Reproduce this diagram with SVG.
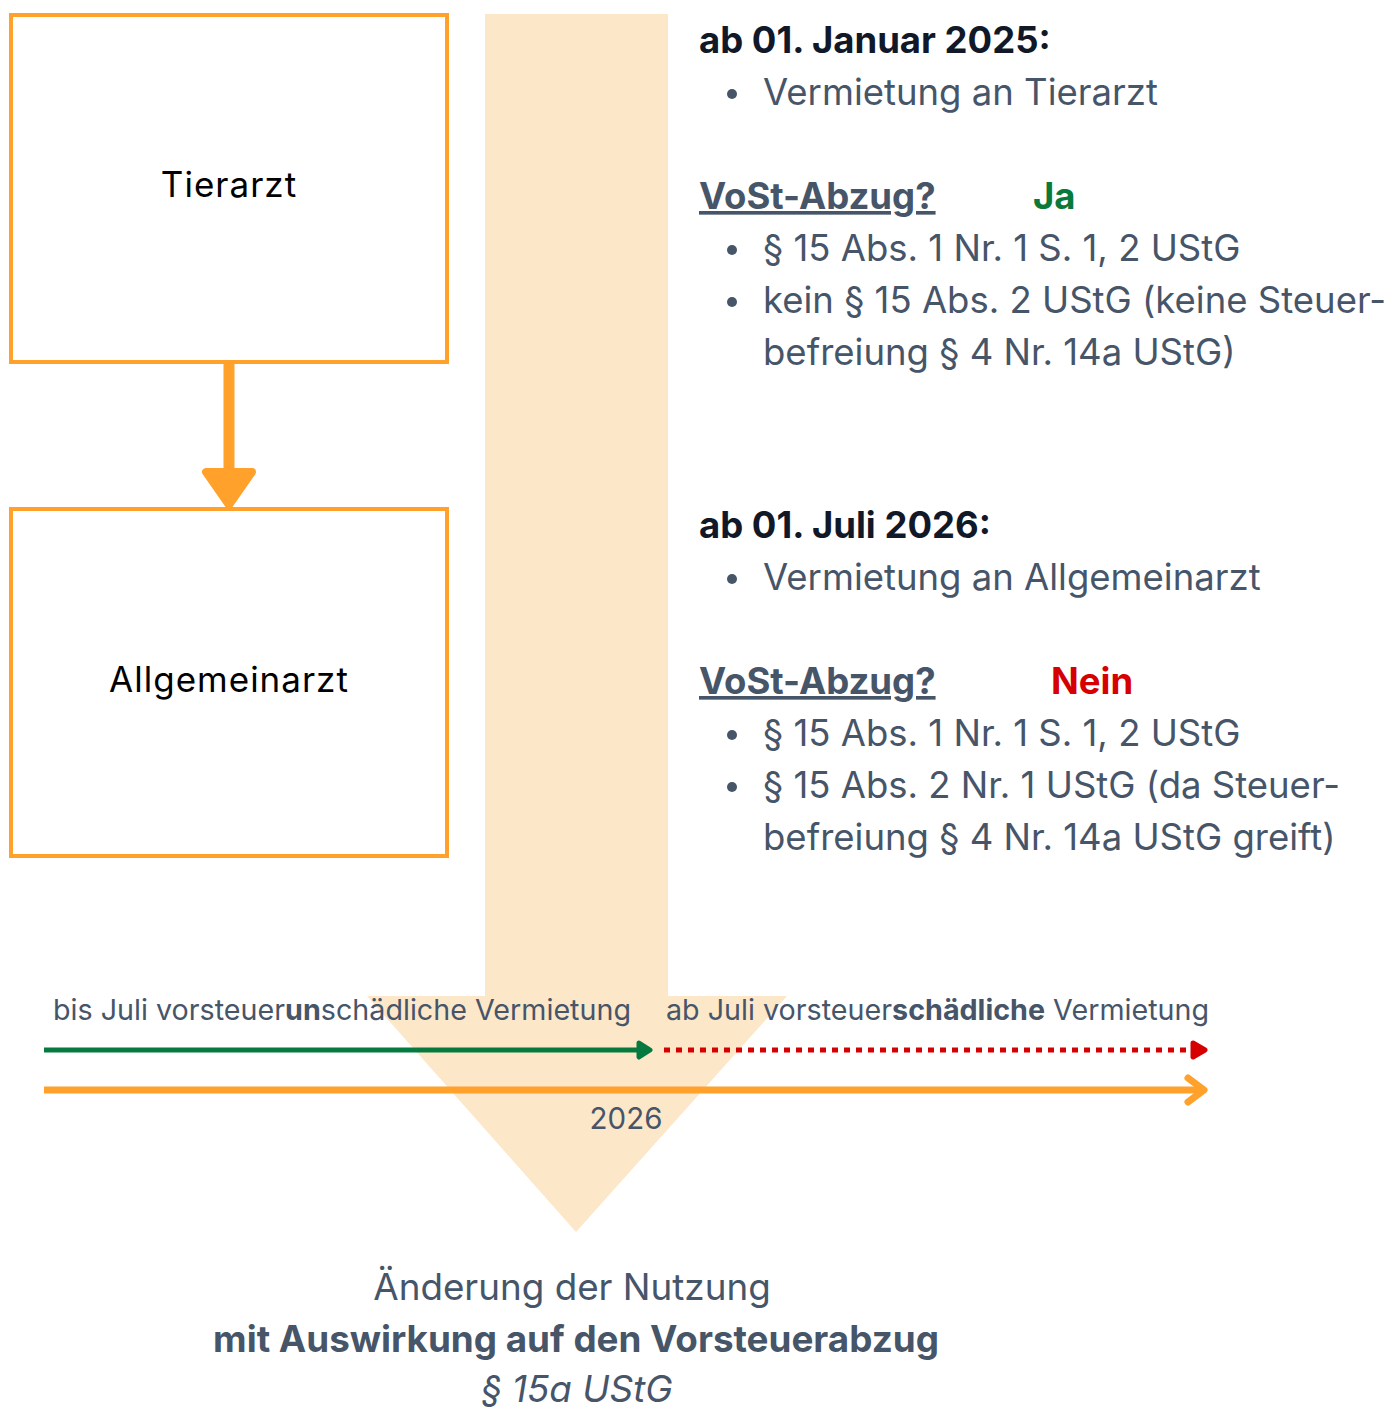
<svg xmlns="http://www.w3.org/2000/svg" width="1389" height="1407" viewBox="0 0 1389 1407">
<style>
.box{fill:#fff;stroke:#FFA12A;stroke-width:4}
.nt{font-family:Inter,"Liberation Sans",sans-serif;font-size:35px;fill:#000;text-anchor:middle;letter-spacing:1px}
.t{font-family:Inter,"Liberation Sans",sans-serif;font-size:36.5px;fill:#475569}
.h{font-family:Inter,"Liberation Sans",sans-serif;font-size:36.5px;font-weight:700;fill:#111827}
.u{font-weight:700;text-decoration:underline}
.s{font-family:Inter,"Liberation Sans",sans-serif;font-size:28.7px;fill:#475569}
.b{fill:#475569}
</style>
<rect width="1389" height="1407" fill="#fff"/>
<polygon points="485,14 668,14 668,996 787,996 576,1232 367,996 485,996" fill="#FDE7C9"/>
<g id="tierarzt"><rect class="box" x="11" y="15" width="436" height="347"/><text class="nt" x="229" y="197">Tierarzt</text></g>
<g id="allgemeinarzt"><rect class="box" x="11" y="509" width="436" height="347"/><text class="nt" x="229" y="692">Allgemeinarzt</text></g>
<g id="connectors">
<line x1="229" y1="362" x2="229" y2="472" stroke="#FFA12A" stroke-width="11"/>
<polygon points="206,472 252,472 229,505" fill="#FFA12A" stroke="#FFA12A" stroke-width="8" stroke-linejoin="round"/>
</g>
<g id="block1">
<text class="h" x="699" y="53">ab 01. Januar 2025:</text>
<circle class="b" cx="732" cy="94" r="5"/>
<text class="t" x="763" y="105">Vermietung an Tierarzt</text>
<text class="t u" x="699" y="209">VoSt-Abzug?</text>
<text class="h" x="1033" y="209" style="fill:#087A3B">Ja</text>
<circle class="b" cx="732" cy="250" r="5"/>
<text class="t" x="763" y="261">§ 15 Abs. 1 Nr. 1 S. 1, 2 UStG</text>
<circle class="b" cx="732" cy="302" r="5"/>
<text class="t" x="763" y="313">kein § 15 Abs. 2 UStG (keine Steuer-</text>
<text class="t" x="763" y="365">befreiung § 4 Nr. 14a UStG)</text>
</g>
<g id="block2">
<text class="h" x="699" y="538">ab 01. Juli 2026:</text>
<circle class="b" cx="732" cy="579" r="5"/>
<text class="t" x="763" y="590">Vermietung an Allgemeinarzt</text>
<text class="t u" x="699" y="694">VoSt-Abzug?</text>
<text class="h" x="1051" y="694" style="fill:#D60000">Nein</text>
<circle class="b" cx="732" cy="735" r="5"/>
<text class="t" x="763" y="746">§ 15 Abs. 1 Nr. 1 S. 1, 2 UStG</text>
<circle class="b" cx="732" cy="787" r="5"/>
<text class="t" x="763" y="798">§ 15 Abs. 2 Nr. 1 UStG (da Steuer-</text>
<text class="t" x="763" y="850">befreiung § 4 Nr. 14a UStG greift)</text>
</g>
<g id="timeline">
<text class="s" x="53" y="1020">bis Juli vorsteuer<tspan font-weight="700">un</tspan>schädliche Vermietung</text>
<text class="s" x="666" y="1020">ab Juli vorsteuer<tspan font-weight="700">schädliche</tspan> Vermietung</text>
<line x1="44" y1="1050" x2="640" y2="1050" stroke="#067A3E" stroke-width="5"/>
<polygon points="639,1043 650,1050 639,1057" fill="#067A3E" stroke="#067A3E" stroke-width="5" stroke-linejoin="round"/>
<line x1="664" y1="1050" x2="1190" y2="1050" stroke="#D60000" stroke-width="5" stroke-dasharray="6,6"/>
<polygon points="1193,1043 1205,1050 1193,1057" fill="#D60000" stroke="#D60000" stroke-width="5" stroke-linejoin="round"/>
<line x1="44" y1="1090" x2="1203" y2="1090" stroke="#FFA12A" stroke-width="7"/>
<polyline points="1188,1078 1204,1090 1188,1102" fill="none" stroke="#FFA12A" stroke-width="7" stroke-linecap="round" stroke-linejoin="round"/>
<text class="s" x="626" y="1129" text-anchor="middle" style="font-size:29.5px">2026</text>
</g>
<g id="caption" text-anchor="middle">
<text class="t" x="572" y="1300" style="font-size:36.8px">Änderung der Nutzung</text>
<text class="t" x="576" y="1352" style="font-size:36.8px;font-weight:700">mit Auswirkung auf den Vorsteuerabzug</text>
<text class="t" x="577" y="1402" style="font-size:36.8px;font-style:italic">§ 15a UStG</text>
</g>
</svg>
